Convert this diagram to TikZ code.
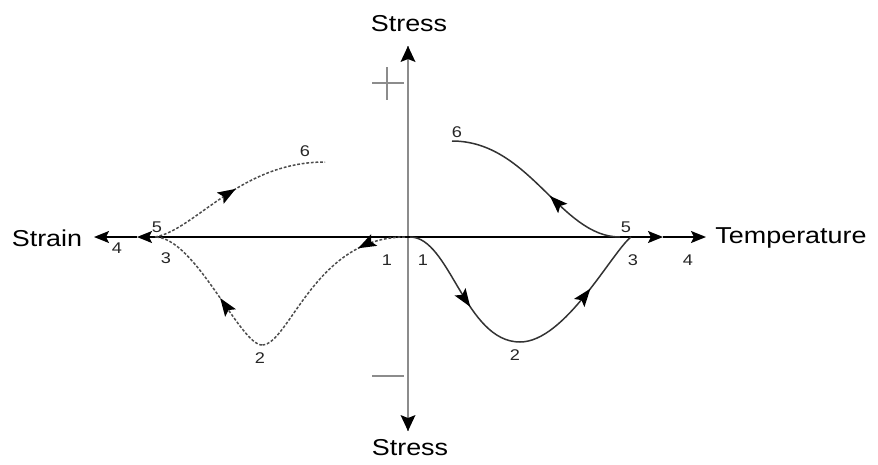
\documentclass[tikz,border=0pt]{standalone}
\usepackage{fontspec}
\usepackage{graphicx}
\setmainfont{Liberation Sans}
\usetikzlibrary{arrows.meta,decorations.markings}
\newcommand\hwide[1]{\scalebox{1.17}[1]{#1}}
\begin{document}
\begin{tikzpicture}[x=1pt,y=-1pt,
  tipA/.style={-{Stealth[length=15pt,width=12pt,inset=3pt]}},
  haxis/.style={line width=1.6pt, draw=black},
  vaxis/.style={line width=2.8pt, draw=black!45},
  sign/.style={line width=2.4pt, draw=black!45},
  curve/.style={line width=1.5pt, draw=black!80},
  dcurve/.style={line width=1.5pt, draw=black!70, dash pattern=on 2.8pt off 1.8pt},
  marr/.style={postaction={decorate,decoration={markings,
     mark=at position #1 with {\arrow{Stealth[length=18pt,width=13pt,inset=3.5pt,black]}}}}},
  axislbl/.style={font=\fontsize{23}{26}\selectfont, inner sep=0pt},
  num/.style={font=\fontsize{15.5}{17}\selectfont, inner sep=0pt, text=black!85}
]
\useasboundingbox (0,0) rectangle (878,464);

% axis coordinates
\coordinate (O) at (408,237);
\coordinate (VT) at (408,46);
\coordinate (VB) at (408,431);
\coordinate (L3) at (137,237);
\coordinate (L4) at (94,237);
\coordinate (R3) at (663,237);
\coordinate (R4) at (706,237);

% vertical axis (gray line, black tips)
\draw[vaxis] (VB) -- (VT);
\draw[draw=none, fill=black] (VT) -- ++(-7.5,16) -- ++(7.5,-3) -- ++(7.5,3) -- cycle;
\draw[draw=none, fill=black] (VB) -- ++(-7.5,-16) -- ++(7.5,3) -- ++(7.5,-3) -- cycle;

% plus / minus
\coordinate (PL) at (372,83); \coordinate (PR) at (404,83);
\coordinate (PT) at (387,67); \coordinate (PB) at (387,100);
\draw[sign] (PL) -- (PR);
\draw[sign] (PT) -- (PB);
\coordinate (ML) at (372,376); \coordinate (MR) at (404,376);
\draw[sign] (ML) -- (MR);

% horizontal axis with double tips
\draw[haxis,tipA] (O) -- (L3);
\draw[haxis,tipA] (L3) -- (L4);
\draw[haxis,tipA] (O) -- (R3);
\draw[haxis,tipA] (R3) -- (R4);

% right (temperature) solid curves
\coordinate (T1) at (410,237);
\coordinate (T2) at (520,342);
\coordinate (T3) at (631,237);
\coordinate (T5) at (620,237);
\coordinate (T6) at (452,141);
\draw[curve,marr=0.6] (T1) .. controls (450,237) and (465,342) .. (T2);
\draw[curve,marr=0.58] (T2) .. controls (565,342) and (612,252) .. (T3);
\draw[curve,marr=0.42] (T5) .. controls (560,237) and (530,141) .. (T6);

% left (strain) dashed curves
\coordinate (S1) at (405,237);
\coordinate (S2) at (262,345);
\coordinate (S3) at (155,237);
\coordinate (S6) at (325,162);
\draw[dcurve,marr=0.26] (S1) .. controls (315,237) and (289,345) .. (S2);
\draw[dcurve,marr=0.41] (S2) .. controls (240,345) and (195,237) .. (S3);
\draw[dcurve,marr=0.5] (S3) .. controls (195,230) and (240,162) .. (S6);

% axis labels
\node[axislbl] (stressT) at (409,24) {\hwide{Stress}};
\node[axislbl] (stressB) at (410,448) {\hwide{Stress}};
\node[axislbl] (strain) at (47,238) {\hwide{Strain}};
\node[axislbl] (temp) at (791,238) {\hwide{Temperature}};

% number labels left
\node[num] (l5) at (157,227) {\hwide{5}};
\node[num] (l4) at (117,248) {\hwide{4}};
\node[num] (l3) at (166,258) {\hwide{3}};
\node[num] (l6) at (305,151) {\hwide{6}};
\node[num] (l2) at (260,358) {\hwide{2}};
\node[num] (l1) at (387,260) {\hwide{1}};
% number labels right
\node[num] (r1) at (423,260) {\hwide{1}};
\node[num] (r6) at (457,132) {\hwide{6}};
\node[num] (r5) at (626,227) {\hwide{5}};
\node[num] (r3) at (633,260) {\hwide{3}};
\node[num] (r4) at (688,260) {\hwide{4}};
\node[num] (r2) at (515,355) {\hwide{2}};
\end{tikzpicture}
\end{document}
